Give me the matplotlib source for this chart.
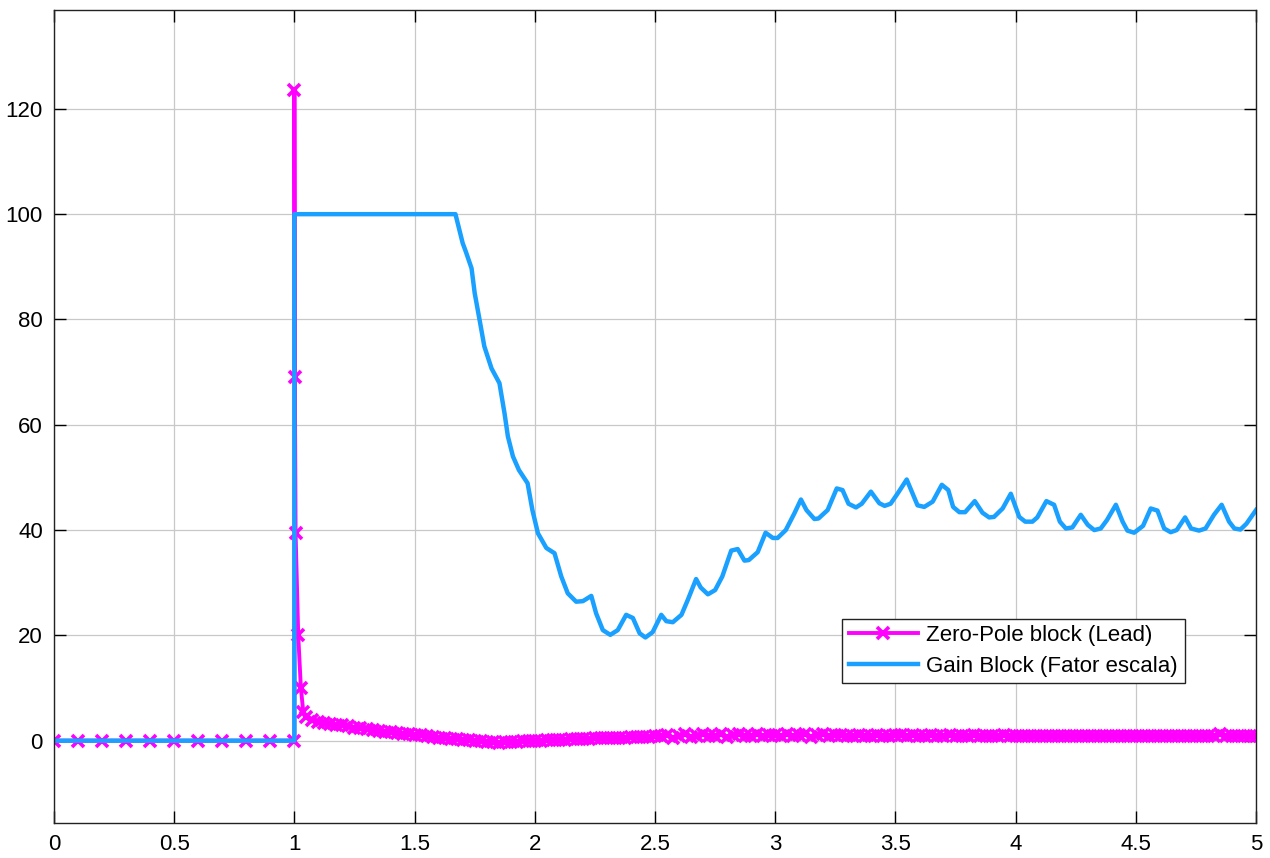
import numpy as np
import matplotlib; matplotlib.use("Agg")
import matplotlib.pyplot as plt
plt.rcParams.update({"font.family":["Liberation Sans","DejaVu Sans"],"font.size":16})

# Zero-Pole block (Lead): step-sampled head, spike at t=1, then dense decay tail
zp_t_head=[0,0.1,0.2,0.3,0.4,0.5,0.6,0.7,0.8,0.9,1.0,1.0,1.002,1.005,1.016,1.027,1.037]
zp_y_head=[0,0,0,0,0,0,0,0,0,0,0,123.5,69,39.5,20,10,5.5]
zp_t_tail=np.arange(1.05,5.0001,0.025)
zp_y_tail=[4.5,4.0,3.6,3.4,3.2,3.0,2.9,2.7,2.5,2.4,2.2,2.0,1.9,1.7,1.6,1.4,1.3,1.2,1.1,
           1.0,0.9,0.7,0.6,0.5,0.4,0.3,0.2,0.1,0.0,-0.1,-0.2,-0.3,-0.4,-0.3,-0.2,-0.2,-0.1,0.0,0.0,
           0.0,0.1,0.1,0.2,0.2,0.3,0.3,0.4,0.4,0.5,0.5,0.5,0.6,0.6,0.6,0.7,0.7,0.7,0.7,0.8,
           0.8,1.1,0.6,0.9,1.2,0.7,0.9,1.3,0.8,0.9,1.2,0.7,1.0,1.3,0.8,0.9,1.2,0.8,1.0,1.1,
           0.9,1.3,0.8,1.0,1.2,0.7,1.1,1.2,0.8,1.0,1.1,0.8,0.9,1.0,0.9,0.9,1.0,0.9,0.9,1.0,
           1.0,0.9,1.0,0.9,0.9,1.0,0.9,0.9,1.0,0.9,0.9,0.9,1.0,0.9,0.9,0.9,0.9,1.0,0.9,0.9,
           0.9,0.9,0.8,0.9,0.9,0.8,0.9,0.9,0.8,0.9,0.9,0.8,0.9,0.9,0.8,0.9,0.9,0.8,0.9,0.9,
           0.8,0.9,0.8,0.9,0.8,0.9,0.8,0.9,0.8,0.9,0.8,0.9,0.8,1.2,0.9,0.8,0.9,0.8,0.9,0.8]
zp_t=np.concatenate([zp_t_head,zp_t_tail]); zp_y=np.concatenate([zp_y_head,zp_y_tail])

# Gain Block (Fator escala)
g_t=[0,1.0,1.0,1.67,1.70,1.713,1.737,1.75,1.77,1.79,1.82,1.853,1.874,1.888,1.909,1.934,1.97,1.99,
     2.013,2.048,2.082,2.11,2.137,2.172,2.2,2.235,2.255,2.283,2.314,2.345,2.38,2.408,2.436,2.46,2.49,
     2.526,2.547,2.574,2.61,2.636,2.671,2.69,2.72,2.75,2.78,2.817,2.844,2.872,2.89,2.927,2.96,2.99,
     3.01,3.044,3.08,3.107,3.13,3.163,3.18,3.218,3.256,3.28,3.305,3.336,3.36,3.398,3.433,3.455,3.48,
     3.51,3.547,3.592,3.62,3.655,3.693,3.72,3.74,3.766,3.79,3.83,3.862,3.89,3.91,3.946,3.98,
     4.015,4.04,4.07,4.09,4.128,4.16,4.184,4.209,4.236,4.271,4.3,4.327,4.354,4.38,4.417,4.445,4.465,
     4.493,4.53,4.562,4.59,4.618,4.645,4.67,4.705,4.73,4.763,4.79,4.825,4.857,4.888,4.91,4.935,4.96,5.0]
g_y=[0,0,100,100,94.5,92.9,89.7,85,80,74.9,70.7,67.9,62.2,57.8,54,51.4,48.9,43.8,
     39.4,36.6,35.6,31.2,28,26.4,26.5,27.5,24.2,21,20.1,21,23.9,23.3,20.4,19.6,20.6,
     23.9,22.7,22.5,23.9,26.7,30.7,29.1,27.8,28.6,31.2,36.1,36.4,34.2,34.3,35.8,39.5,38.5,
     38.5,40,43.2,45.8,43.8,42.1,42.2,43.8,47.9,47.6,45,44.3,45,47.3,45.1,44.6,45,
     47,49.6,44.7,44.4,45.4,48.6,47.6,44.4,43.4,43.4,45.5,43.3,42.4,42.5,44.1,46.9,
     42.5,41.6,41.6,42.4,45.5,44.8,41.6,40.3,40.5,42.9,41,40,40.3,41.9,44.8,41.6,39.9,
     39.5,40.8,44.1,43.7,40.3,39.6,40,42.4,40.3,39.9,40.3,42.9,44.8,41.6,40.3,40.1,41.2,43.8]

fig=plt.figure(figsize=(12.7,8.58),dpi=100)
ax=fig.add_axes([0.0425,0.041,0.9465,0.9475])
ax.plot(zp_t,zp_y,color="#ff00ff",lw=2.8,marker="x",ms=9,mew=2.6,label="Zero-Pole block (Lead)")
ax.plot(g_t,g_y,color="#1aa0ff",lw=3.2,label="Gain Block (Fator escala)")
ax.set_xlim(0,5); ax.set_ylim(-15.6,138.8)
ax.set_xticks(np.arange(0,5.01,0.5)); ax.set_xticklabels(["0","0.5","1","1.5","2","2.5","3","3.5","4","4.5","5"])
ax.set_yticks(range(0,121,20))
ax.tick_params(direction="in",length=8.5,width=1,top=True,right=True,labelsize=16,pad=8)
ax.grid(True,color="#c8c8c8",lw=0.9); ax.set_axisbelow(True)
for sp in ax.spines.values(): sp.set_color("#222"); sp.set_linewidth(1)
leg=ax.legend(loc="upper left",bbox_to_anchor=(0.6556,0.2512),borderaxespad=0,fancybox=False,
              framealpha=1,edgecolor="#222",handlelength=3.1,handletextpad=0.4,fontsize=16,
              borderpad=0.3,labelspacing=0.42)
leg.get_frame().set_linewidth(1)
fig.savefig("out.png",dpi=100)
print("saved out.png")
